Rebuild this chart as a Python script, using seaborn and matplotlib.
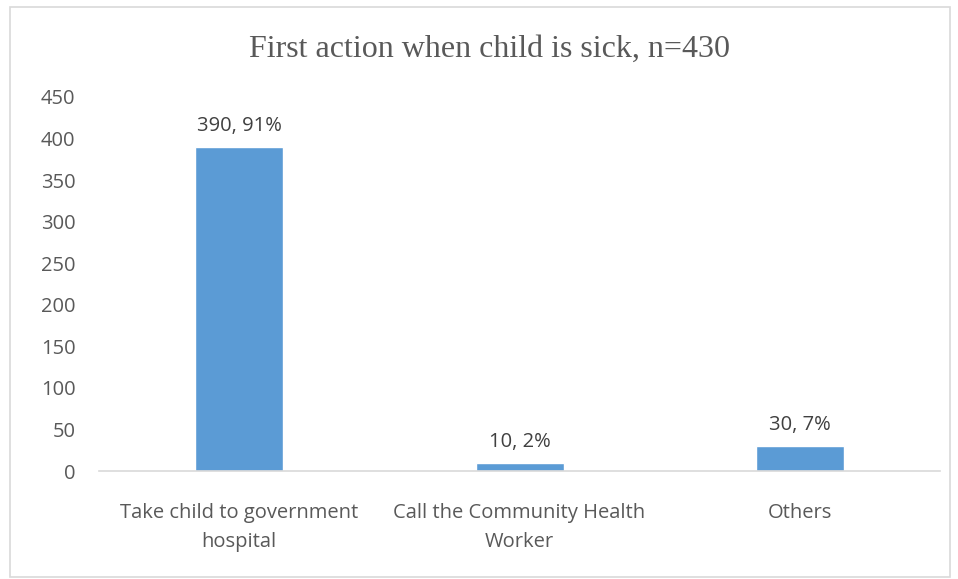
import matplotlib
matplotlib.use("Agg")
import matplotlib.pyplot as plt
import seaborn as sns
import pandas as pd
from matplotlib.patches import Rectangle

categories = ["Take child to government\nhospital", "Call the Community Health\nWorker", "Others"]
counts = [390, 10, 30]
percents = ["91%", "2%", "7%"]
yticks = [0, 50, 100, 150, 200, 250, 300, 350, 400, 450]

df = pd.DataFrame({"category": categories, "count": counts})

sns.set_theme(style="white")
plt.rcParams['font.family'] = ['Open Sans', 'DejaVu Sans']

fig = plt.figure(figsize=(9.58, 5.79), dpi=100)
ax = fig.add_axes([0.1033, 0.1865, 0.878, 0.646])

sns.barplot(data=df, x="category", y="count", color="#5b9bd5", width=0.314,
            saturation=1, ax=ax)

ax.set_ylim(0, 450)
ax.set_yticks(yticks)
ax.set_yticklabels([str(v) for v in yticks], fontsize=14.5, color="#595959")
ax.tick_params(axis='x', labelsize=14.5, labelcolor="#595959", length=0, pad=23)
ax.tick_params(axis='y', length=0, pad=17)
for lab in ax.get_xticklabels():
    lab.set_linespacing(1.6)
ax.set_xlabel("")
ax.set_ylabel("")
for s in ["top", "right", "left"]:
    ax.spines[s].set_visible(False)
ax.spines["bottom"].set_color("#d9d9d9")
ax.spines["bottom"].set_linewidth(1.2)
ax.grid(False)

for i, (c, p) in enumerate(zip(counts, percents)):
    ax.text(i, c + 13, f"{c}, {p}", ha="center", va="bottom", fontsize=14.5, color="#404040")

fig.text(0.511, 0.915, "First action when child is sick, n=430", ha="center", va="center",
         fontsize=23, color="#595959", family=["Liberation Serif", "DejaVu Serif"])

fig.patches.append(Rectangle((10/958, 2/579), 940/958, 570/579, transform=fig.transFigure,
                             fill=False, edgecolor="#d9d9d9", linewidth=1.2))

fig.savefig("out.png", dpi=100)
